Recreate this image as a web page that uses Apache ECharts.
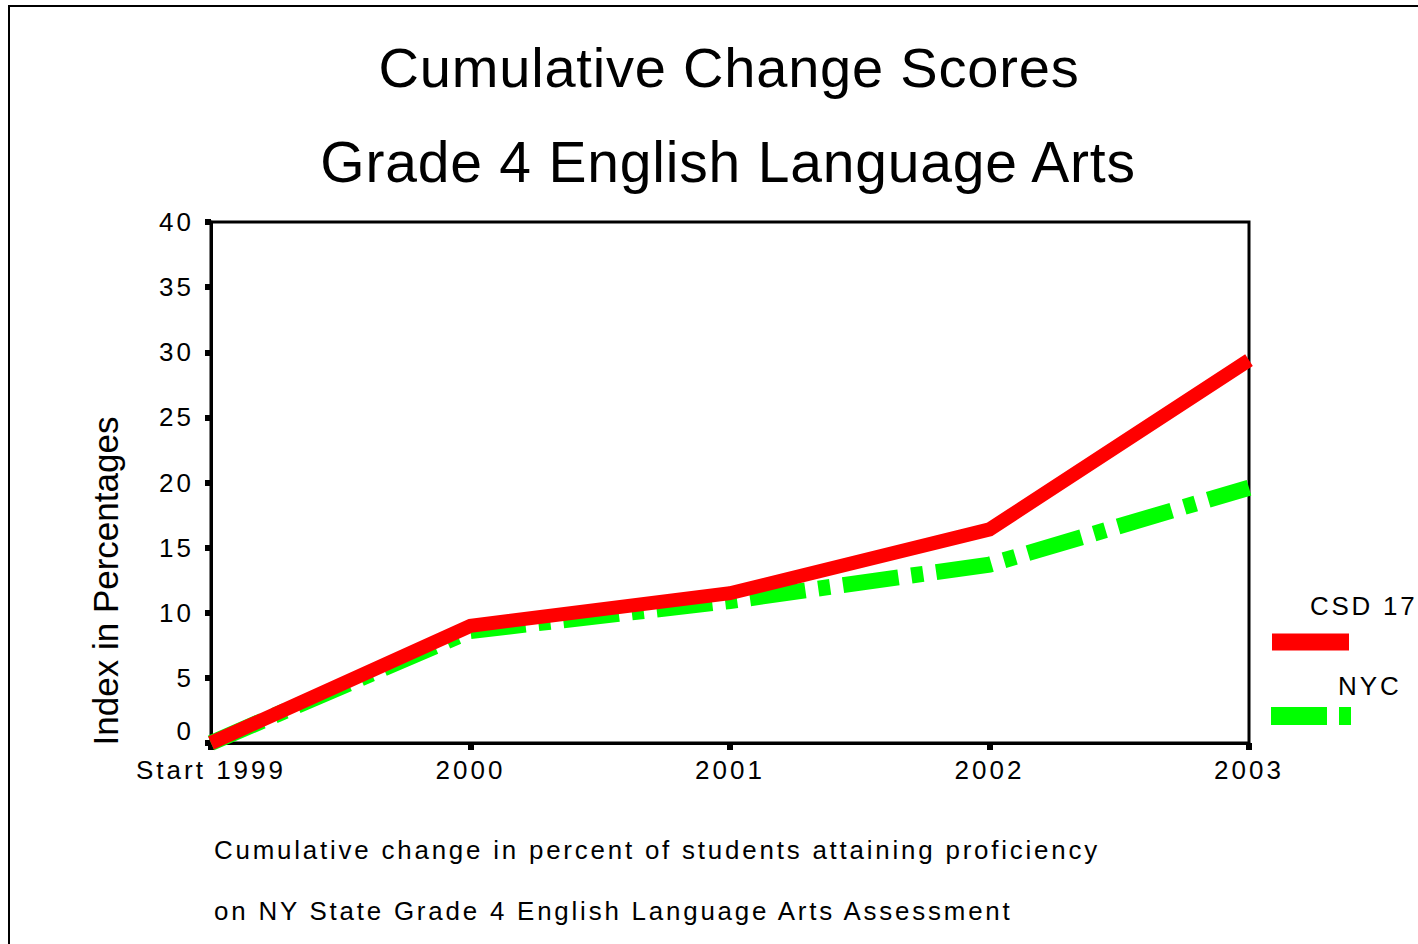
<!DOCTYPE html>
<html><head><meta charset="utf-8">
<script src="https://cdn.jsdelivr.net/npm/echarts@6/dist/echarts.min.js"></script>
<style>
html,body{margin:0;padding:0;background:#fff;}
#c{width:1418px;height:944px;}
#c text[style*="26px"]{letter-spacing:3px;}
#c text[style*="25.9px"]{letter-spacing:2.8px;}
#c text[style*="56px"], #c text[style*="57px"]{letter-spacing:0.8px;}
</style></head><body><div id="c"></div>
<script>
// ---- data ----
const categories = ['Start 1999', '2000', '2001', '2002', '2003'];
const csd17 = [0, 9.0, 11.5, 16.4, 29.4];
const nyc = [0, 8.6, 10.9, 13.7, 19.6];
const seriesNames = ['CSD 17', 'NYC'];
const yMin = 0, yMax = 40, yStep = 5;
const titleLines = ['Cumulative Change Scores', 'Grade 4 English Language Arts'];
const yAxisTitle = 'Index in Percentages';
const footnoteLines = [
  'Cumulative change in percent of students attaining proficiency',
  'on NY State Grade 4 English Language Arts Assessment'
];

// ---- chart ----
const FONT = '"Liberation Sans", Arial, sans-serif';
const RED = '#FF0000', GREEN = '#00FF00';
const chart = echarts.init(document.getElementById('c'), null, {renderer: 'svg'});

const graphics = [
  {type: 'rect', shape: {x: 9, y: 6, width: 1500, height: 1000},
   style: {fill: 'none', stroke: '#000', lineWidth: 2}, silent: true},
  {type: 'text', x: 729, y: 67, style: {text: titleLines[0], font: '56px ' + FONT, fill: '#000', align: 'center', verticalAlign: 'middle'}},
  {type: 'text', x: 728, y: 162, style: {text: titleLines[1], font: '57px ' + FONT, fill: '#000', align: 'center', verticalAlign: 'middle'}},
  {type: 'text', x: 105, y: 581, rotation: Math.PI / 2,
   style: {text: yAxisTitle, font: '35px ' + FONT, fill: '#000', align: 'center', verticalAlign: 'middle'}},
  {type: 'text', x: 214, y: 850, style: {text: footnoteLines[0], font: '25.9px ' + FONT, fill: '#000', align: 'left', verticalAlign: 'middle'}},
  {type: 'text', x: 214, y: 911, style: {text: footnoteLines[1], font: '25.9px ' + FONT, fill: '#000', align: 'left', verticalAlign: 'middle'}},
  // legend
  {type: 'text', x: 1310, y: 606, style: {text: seriesNames[0], font: '25.9px ' + FONT, fill: '#000', align: 'left', verticalAlign: 'middle'}},
  {type: 'line', shape: {x1: 1272, y1: 642, x2: 1349, y2: 642}, style: {stroke: RED, lineWidth: 17, lineCap: 'butt'}},
  {type: 'text', x: 1338, y: 686, style: {text: seriesNames[1], font: '26px ' + FONT, fill: '#000', align: 'left', verticalAlign: 'middle'}},
  {type: 'line', shape: {x1: 1271, y1: 716, x2: 1351, y2: 716}, style: {stroke: GREEN, lineWidth: 18, lineCap: 'butt', lineDash: [56, 12, 12, 12]}}
];

const option = {
  animation: false,
  backgroundColor: '#fff',
  grid: {left: 211, top: 222, width: 1038, height: 521, containLabel: false,
         show: true, borderColor: '#000', borderWidth: 3, backgroundColor: 'transparent'},
  xAxis: {
    type: 'category', data: categories, boundaryGap: false,
    axisLine: {show: true, lineStyle: {color: '#000', width: 3}},
    axisTick: {show: true, length: 7, lineStyle: {color: '#000', width: 6}},
    axisLabel: {color: '#000', fontSize: 26, fontFamily: FONT, margin: 14, interval: 0, hideOverlap: false},
    splitLine: {show: false}
  },
  yAxis: {
    type: 'value', min: yMin, max: yMax, interval: yStep,
    axisLine: {show: true, lineStyle: {color: '#000', width: 3}},
    axisTick: {show: true, length: 6, lineStyle: {color: '#000', width: 6}},
    axisLabel: {
      color: '#000', fontSize: 26, fontFamily: FONT, margin: 17,
      formatter: v => v === 0 ? '{z|0}' : String(v),
      rich: {z: {fontSize: 26, fontFamily: FONT, color: '#000', padding: [0, 0, 24, 0]}}
    },
    splitLine: {show: false}
  },
  series: [
    {name: seriesNames[1], type: 'line', data: nyc, symbol: 'none', clip: false, z: 2,
     lineStyle: {color: GREEN, width: 16, type: [56, 13, 12, 13], cap: 'butt', join: 'miter'}},
    {name: seriesNames[0], type: 'line', data: csd17, symbol: 'none', clip: false, z: 3,
     lineStyle: {color: RED, width: 14, type: 'solid', cap: 'butt', join: 'miter'}}
  ],
  graphic: graphics
};
chart.setOption(option);
</script></body></html>
